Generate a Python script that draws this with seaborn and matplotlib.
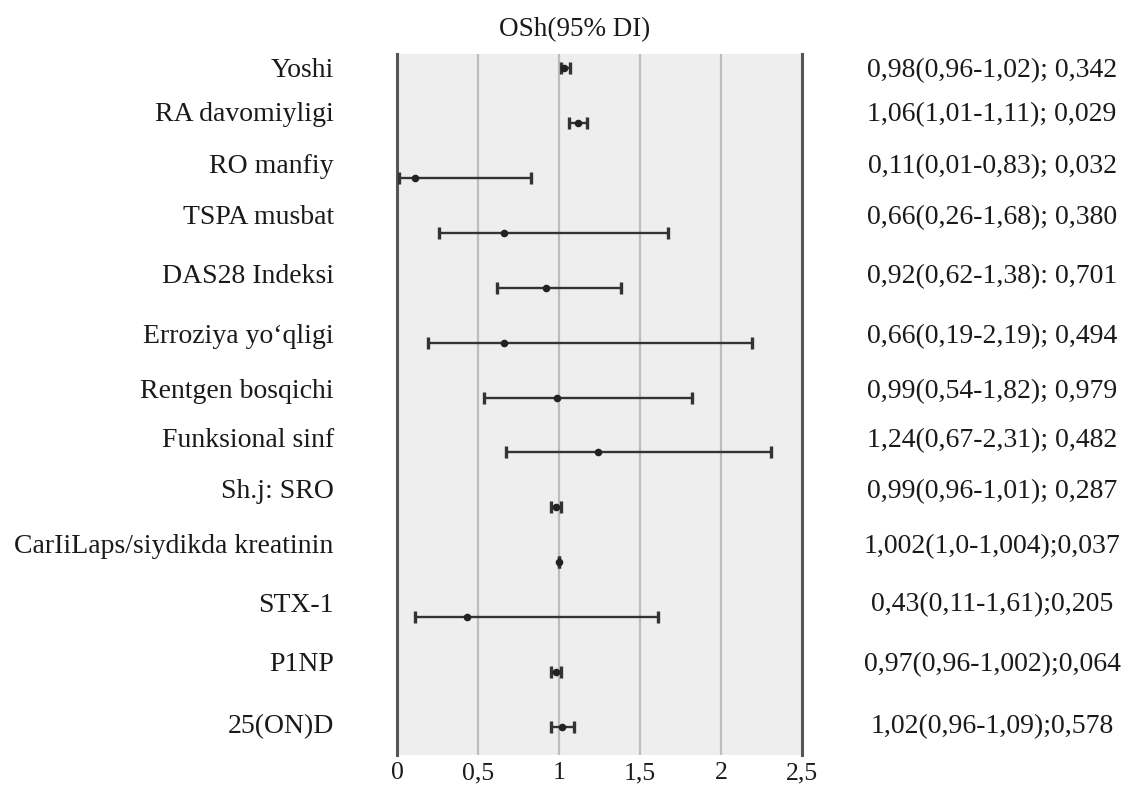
import numpy as np
import pandas as pd
import seaborn as sns
import matplotlib.pyplot as plt
import matplotlib.transforms as mtransforms

# factor names (top to bottom)
factors = ["Yoshi", "RA davomiyligi", "RO manfiy", "TSPA musbat", "DAS28 Indeksi",
           "Erroziya yo\u2018qligi", "Rentgen bosqichi", "Funksional sinf", "Sh.j: SRO",
           "CarIiLaps/siydikda kreatinin", "STX-1", "P1NP", "25(ON)D"]

# odds ratios and 95% CI as drawn in the picture
or_est = [1.03, 1.12, 0.11, 0.66, 0.92, 0.66, 0.99, 1.24, 0.98, 1.00, 0.43, 0.98, 1.02]
ci_low = [1.01, 1.06, 0.01, 0.26, 0.62, 0.19, 0.54, 0.67, 0.95, 1.00, 0.11, 0.95, 0.95]
ci_high = [1.07, 1.17, 0.83, 1.67, 1.38, 2.19, 1.82, 2.31, 1.01, 1.00, 1.61, 1.01, 1.09]

# text column on the right
or_text = ["0,98(0,96-1,02); 0,342", "1,06(1,01-1,11); 0,029", "0,11(0,01-0,83); 0,032",
           "0,66(0,26-1,68); 0,380", "0,92(0,62-1,38): 0,701", "0,66(0,19-2,19); 0,494",
           "0,99(0,54-1,82); 0,979", "1,24(0,67-2,31); 0,482", "0,99(0,96-1,01); 0,287",
           "1,002(1,0-1,004);0,037", "0,43(0,11-1,61);0,205", "0,97(0,96-1,002);0,064",
           "1,02(0,96-1,09);0,578"]

x_ticks = [0, 0.5, 1, 1.5, 2, 2.5]
x_tick_labels = ["0", "0,5", "1", "1,5", "2", "2,5"]

df = pd.DataFrame({"factor": factors, "row": np.arange(len(factors)),
                   "est": or_est, "lo": ci_low, "hi": ci_high})

# text rows sit slightly higher than the marks in the original
text_shift = [0.04, -0.15, -0.2, -0.28, -0.2, -0.11, -0.11, -0.21, -0.29, -0.29, -0.22, -0.13, 0.0]

sns.set_theme(style="white")
plt.rcParams["font.family"] = ["Liberation Serif", "DejaVu Serif"]

fig = plt.figure(figsize=(11.29, 7.85), dpi=100)
ax = fig.add_axes([0.3516, 0.0382, 0.3588, 0.893])
ax.set_facecolor("#eeeeee")

ax.errorbar(df["est"], df["row"],
            xerr=[df["est"] - df["lo"], df["hi"] - df["est"]],
            fmt="none", ecolor="#333333", elinewidth=1.7, capsize=4.5, capthick=2.4, zorder=3)
sns.scatterplot(data=df, x="est", y="row", ax=ax, color="#222222", s=30,
                edgecolor="#222222", linewidth=0, zorder=4, legend=False)

for xv in x_ticks[1:-1]:
    ax.axvline(xv, color="#bdbdbd", lw=1.6, zorder=1)

ax.set_xlim(0, 2.5)
ax.set_ylim(len(factors) - 0.49, -0.255)
ax.set_xticks(x_ticks)
ax.set_xticklabels(x_tick_labels, fontsize=18.5, color="#1a1a1a")
ax.set_yticks([])
ax.set_xlabel("")
ax.set_ylabel("")
ax.tick_params(axis="x", length=0, pad=5)

for side in ["top", "bottom"]:
    ax.spines[side].set_visible(False)
for side in ["left", "right"]:
    ax.spines[side].set_color("#555555")
    ax.spines[side].set_linewidth(2.2)

trans = mtransforms.blended_transform_factory(ax.transAxes, ax.transData)
for i, (name, txt) in enumerate(zip(factors, or_text)):
    y = i + text_shift[i]
    ax.text(-0.156, y, name, transform=trans, ha="right", va="center",
            fontsize=20, color="#1a1a1a")
    ax.text(1.469, y, txt, transform=trans, ha="center", va="center",
            fontsize=20, color="#1a1a1a")

fig.text(0.509, 0.962, "OSh(95% DI)", ha="center", va="center", fontsize=19.5, color="#1a1a1a")

fig.savefig("out.png", dpi=100, facecolor="white")
